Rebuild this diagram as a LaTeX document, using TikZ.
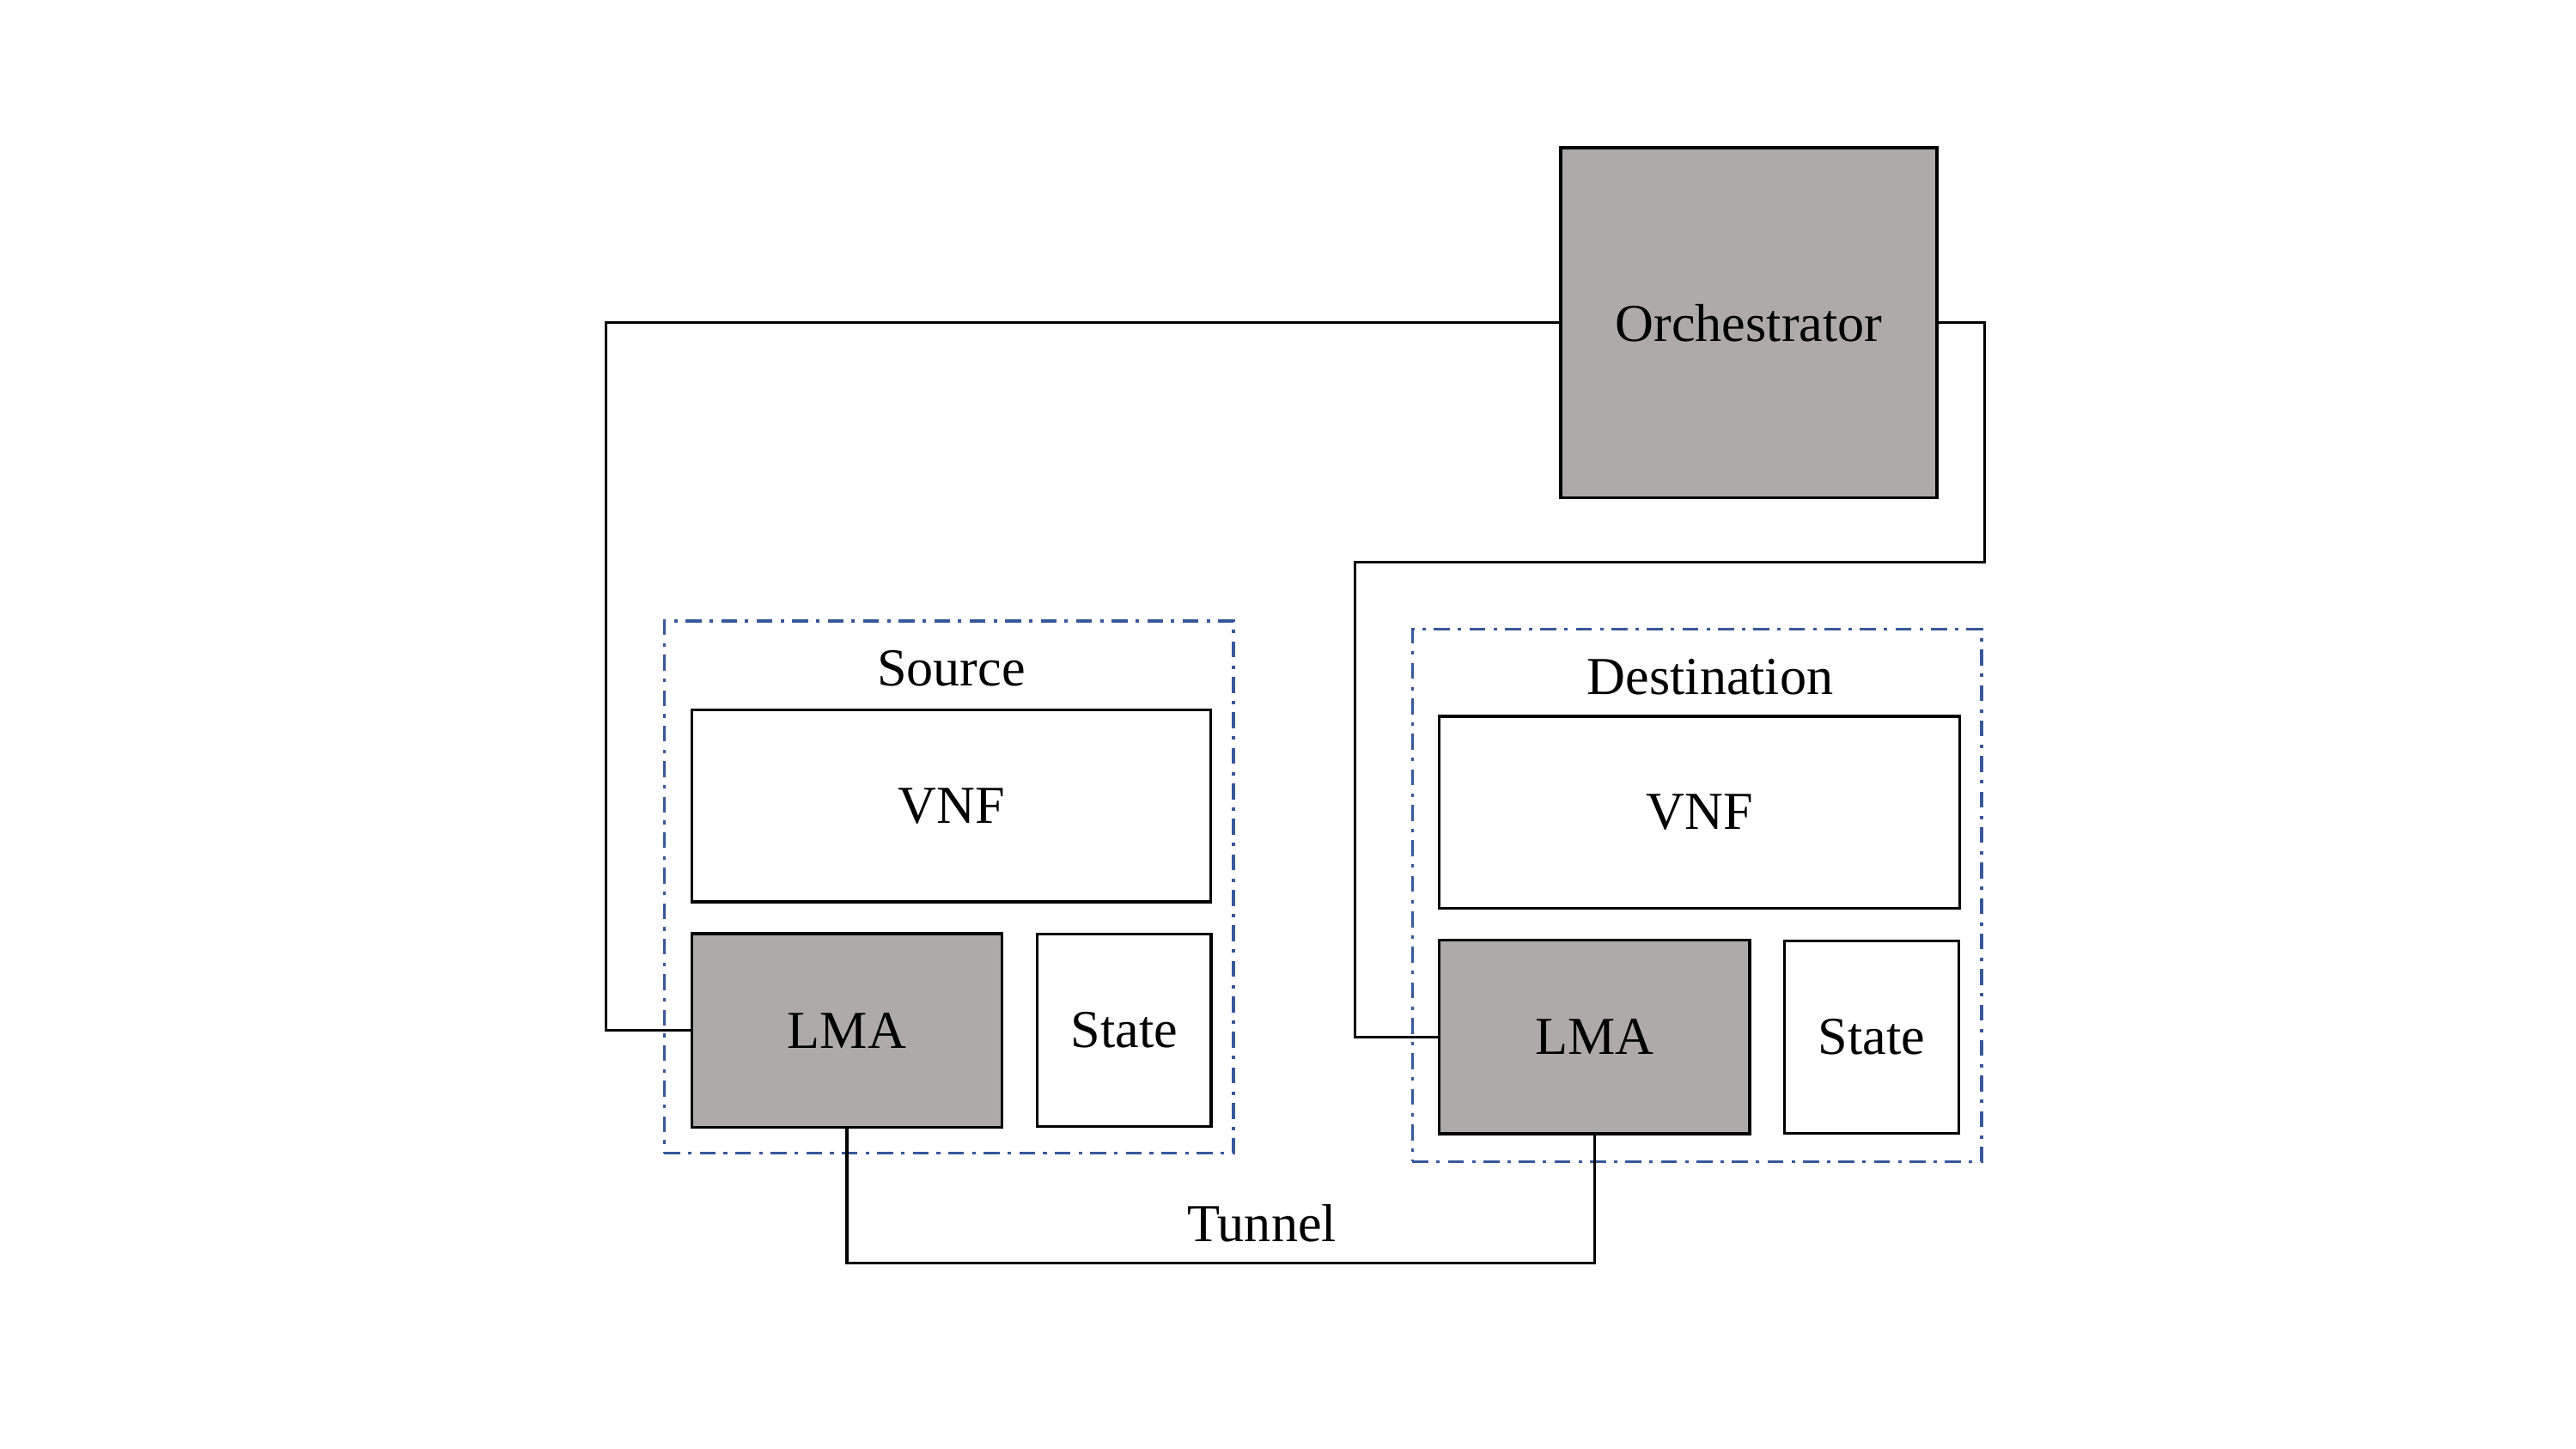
\documentclass[tikz,border=0pt]{standalone}
\usepackage{fontspec}
\setmainfont{Liberation Serif}
\usepackage{xcolor}
\usetikzlibrary{positioning}

\definecolor{boxgray}{RGB}{174,170,169}
\definecolor{hostblue}{RGB}{55,88,155}

\begin{document}
\begin{tikzpicture}[
  x=0.02cm, y=-0.02cm,
  box/.style={draw, line width=1pt, fill=white, align=center, inner sep=2pt,
              font=\fontsize{18.5}{22}\selectfont},
  gbox/.style={box, fill=boxgray},
  host/.style={draw=hostblue, line width=1pt,
               dash pattern=on 5.5pt off 2.8pt on 1.2pt off 2.8pt,
               minimum width=6.93cm, minimum height=6.48cm, inner sep=0pt},
  title/.style={font=\fontsize{18.5}{22}\selectfont, inner sep=2pt},
  lbl/.style={font=\fontsize{18.5}{22}\selectfont, inner sep=2pt},
  wire/.style={line width=0.9pt}
]
\useasboundingbox (0,0) rectangle (1568,882);

% hosts (dash-dotted frames)
\node[host] (src) at (577.5,540) {};
\node[host] (dst) at (1033,545) {};
\node[title] (srctitle) at (579,407) {Source};
\node[title] (dsttitle) at (1041,412) {Destination};

% orchestrator
\node[gbox, minimum width=4.58cm, minimum height=4.26cm] (orch) at (1064.5,196.5) {Orchestrator};

% source host
\node[box, minimum width=6.32cm, minimum height=2.34cm] (srcvnf) at (579,490.5) {VNF};
\node[gbox, minimum width=3.78cm, minimum height=2.36cm,
      below right=3.5mm and 0mm of srcvnf.south west] (srclma) {LMA};
\node[box, minimum width=2.12cm, minimum height=2.34cm, right=3.9mm of srclma] (srcstate) {State};

% destination host
\node[box, minimum width=6.34cm, minimum height=2.34cm] (dstvnf) at (1034.5,494.5) {VNF};
\node[gbox, minimum width=3.78cm, minimum height=2.36cm,
      below right=3.5mm and 0mm of dstvnf.south west] (dstlma) {LMA};
\node[box, minimum width=2.12cm, minimum height=2.34cm, right=3.9mm of dstlma] (dststate) {State};

% control links from the orchestrator
\coordinate (lbend) at (369,197);
\coordinate (rbend) at (1208,342);
\coordinate (dbend) at (825,342);
\draw[wire] (orch.west) -- (orch.west -| lbend) |- (srclma.west);
\draw[wire] (orch.east) -| (rbend) -- (dbend) |- (dstlma.west);

% tunnel between the two LMAs
\coordinate (tbase) at (0,769);
\draw[wire] (srclma.south) -- (srclma.south |- tbase)
      -- node[lbl, above=5pt, pos=0.555] (tunlbl) {Tunnel} (dstlma.south |- tbase)
      -- (dstlma.south);
\end{tikzpicture}
\end{document}
